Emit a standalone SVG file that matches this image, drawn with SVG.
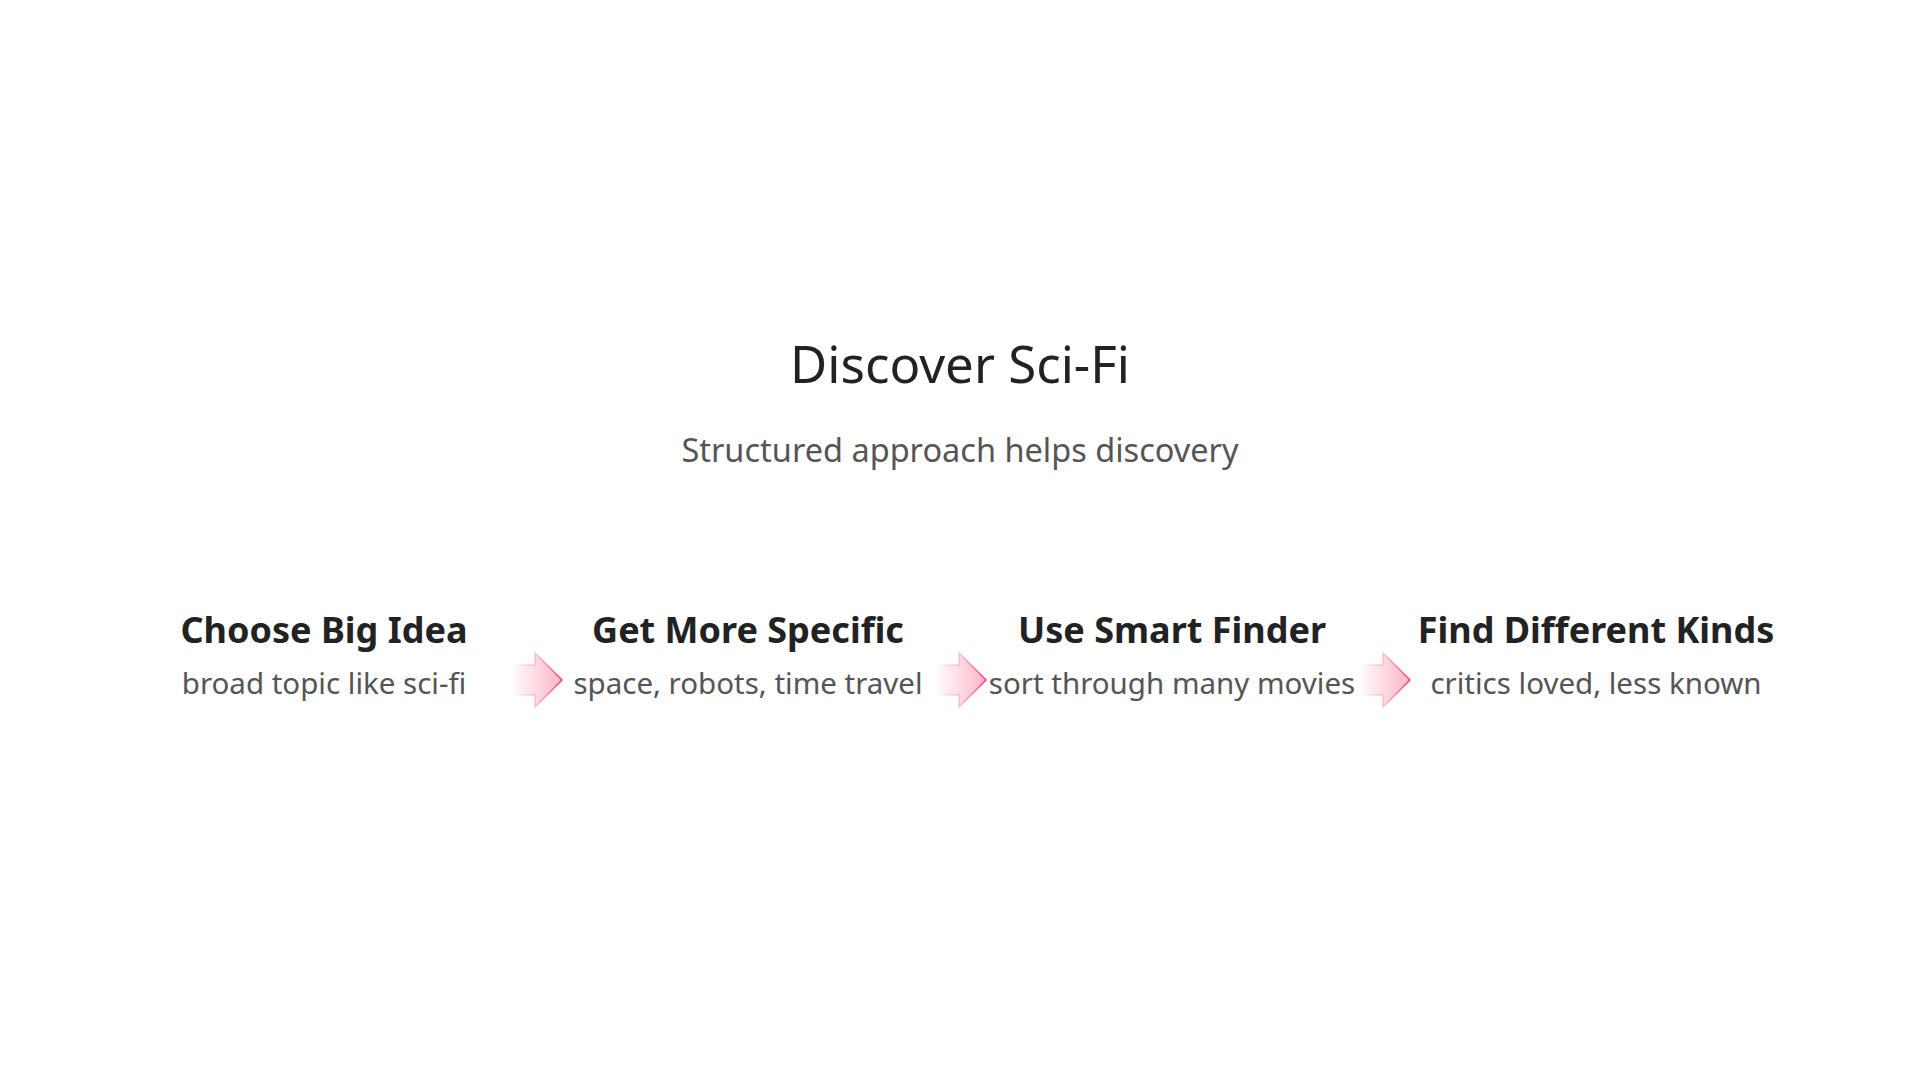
<svg xmlns="http://www.w3.org/2000/svg" width="1920" height="1080" viewBox="0 0 1920 1080">
<defs>
<linearGradient id="ag" x1="0" y1="0" x2="1" y2="0">
<stop offset="0" stop-color="#ff7a9a" stop-opacity="0"/>
<stop offset="1" stop-color="#ff7a9a" stop-opacity="0.55"/>
</linearGradient>
<linearGradient id="as" x1="0" y1="0" x2="1" y2="0">
<stop offset="0" stop-color="#ff4d7a" stop-opacity="0"/>
<stop offset="0.5" stop-color="#ff4d7a" stop-opacity="0.3"/>
<stop offset="1" stop-color="#ff3d6e" stop-opacity="1"/>
</linearGradient>
<path id="arrow" d="M-52,-15 L-27,-15 L-27,-27 L0,0 L-27,27 L-27,15 L-52,15 Z"/>
</defs>
<style>
text{font-family:"Noto Sans","Open Sans","Liberation Sans",sans-serif;text-anchor:middle}
.t{font-size:51px;fill:#222}
.s{font-size:32.5px;fill:#555}
.h{font-size:36px;font-weight:bold;fill:#222}
.d{font-size:29.5px;fill:#555}
.ar{fill:url(#ag);stroke:url(#as);stroke-width:1.5}
</style>
<rect width="1920" height="1080" fill="#fff"/>
<g id="header">
<text class="t" x="960" y="383">Discover Sci-Fi</text>
<text class="s" x="960" y="462">Structured approach helps discovery</text>
</g>
<g id="connectors">
<use href="#arrow" class="ar" transform="translate(562,680)"/>
<use href="#arrow" class="ar" transform="translate(986,680)"/>
<use href="#arrow" class="ar" transform="translate(1410,680)"/>
</g>
<g id="step1">
<text class="h" x="324" y="643">Choose Big Idea</text>
<text class="d" x="324" y="694">broad topic like sci-fi</text>
</g>
<g id="step2">
<text class="h" x="748" y="643">Get More Specific</text>
<text class="d" x="748" y="694">space, robots, time travel</text>
</g>
<g id="step3">
<text class="h" x="1172" y="643">Use Smart Finder</text>
<text class="d" x="1172" y="694">sort through many movies</text>
</g>
<g id="step4">
<text class="h" x="1596" y="643">Find Different Kinds</text>
<text class="d" x="1596" y="694">critics loved, less known</text>
</g>
</svg>
